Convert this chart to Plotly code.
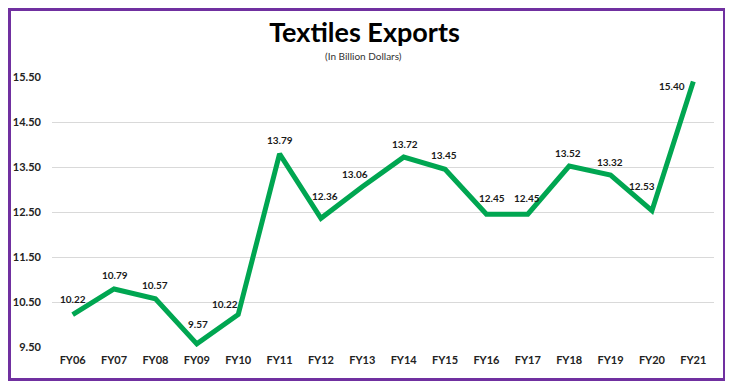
import plotly.graph_objects as go

years = ["FY06", "FY07", "FY08", "FY09", "FY10", "FY11", "FY12", "FY13",
         "FY14", "FY15", "FY16", "FY17", "FY18", "FY19", "FY20", "FY21"]
exports = [10.22, 10.79, 10.57, 9.57, 10.22, 13.79, 12.36, 13.06,
           13.72, 13.45, 12.45, 12.45, 13.52, 13.32, 12.53, 15.40]
y_ticks = [9.5, 10.5, 11.5, 12.5, 13.5, 14.5, 15.5]

# label pixel offsets (style only)
label_dx = [0, 1, 0, 1, -13, 0, 4, -7, 1, -1, 6, -1, -1, -1, -10, -21]
label_dy = [16, 14, 14, 20, 11, 14, 22, 13, 13, 14, 16, 16, 13, 13, 25, -4]

FONT = "Lato"
W, H = 725, 375
ML, MR, MT, MB = 44, 19, 69, 36
PW, PH = W - ML - MR, H - MT - MB


def px_x(px):
    return (px - ML) / PW


def px_y(py):
    return (H - MB - py) / PH


fig = go.Figure()
fig.add_trace(go.Scatter(
    x=years, y=exports, mode="lines",
    line=dict(color="#00A651", width=5),
    cliponaxis=False, hoverinfo="x+y", showlegend=False,
))

annotations = []
for x, y, dx, dy in zip(years, exports, label_dx, label_dy):
    annotations.append(dict(
        x=x, y=y, xref="x", yref="y", text=f"{y:.2f}", showarrow=False,
        xshift=dx, yshift=dy,
        font=dict(family=FONT, size=10, color="#1a1a1a", weight="bold"),
    ))

annotations.append(dict(
    x=px_x(355.5), y=px_y(48), xref="paper", yref="paper",
    xanchor="center", yanchor="middle",
    text="(In Billion Dollars)", showarrow=False,
    font=dict(family=FONT, size=10, color="#333333"),
))

fig.update_layout(
    width=W, height=H,
    margin=dict(l=ML, r=MR, t=MT, b=MB, autoexpand=False),
    paper_bgcolor="white", plot_bgcolor="white",
    title=dict(text="<b>Textiles Exports</b>", x=356.5 / W, y=1 - 24.5 / H,
               xref="container", yref="container",
               xanchor="center", yanchor="middle",
               font=dict(family=FONT, size=27, color="#000000")),
    annotations=annotations,
    shapes=[dict(type="rect", xref="paper", yref="paper",
                 x0=px_x(1.5), x1=px_x(716.5),
                 y0=px_y(371.5), y1=px_y(1.5),
                 line=dict(color="#7030A0", width=3), layer="above")],
)
fig.update_xaxes(
    type="category", range=[-0.5, 15.5],
    showgrid=False, showline=False, zeroline=False, ticks="",
    ticklabelstandoff=5,
    tickfont=dict(family=FONT, size=11, color="#222222", weight="bold"),
)
fig.update_yaxes(
    range=[9.5, 15.5], tickvals=y_ticks, tickformat=".2f",
    showgrid=True, gridcolor="#D9D9D9", gridwidth=1, zeroline=False,
    showline=False, ticks="", ticklabelstandoff=10,
    tickfont=dict(family=FONT, size=11, color="#222222", weight="bold"),
)

fig.write_html("out.html")
